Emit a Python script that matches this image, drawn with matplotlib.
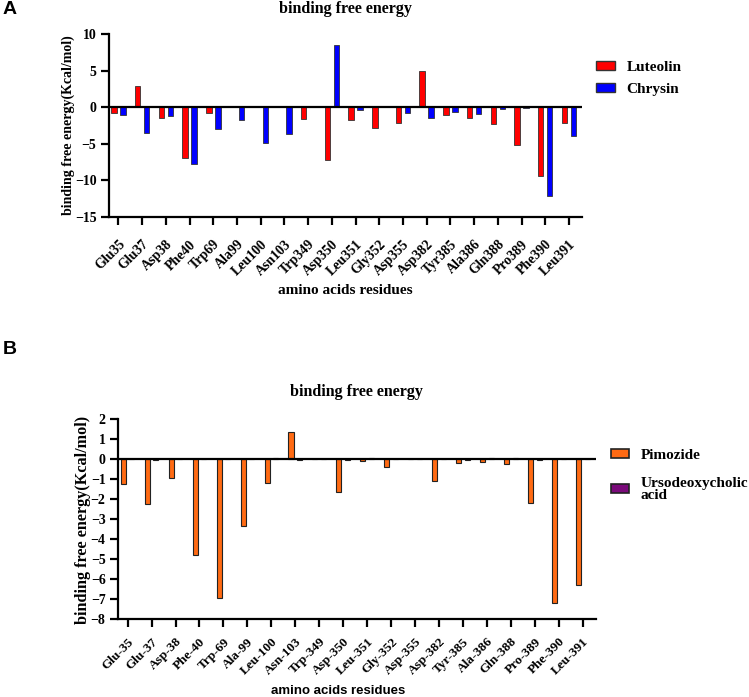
import numpy as np
from matplotlib import pyplot as plt
from matplotlib.patches import Patch

# panel A data
residues_a = ["Glu35", "Glu37", "Asp38", "Phe40", "Trp69", "Ala99", "Leu100", "Asn103", "Trp349", "Asp350",
              "Leu351", "Gly352", "Asp355", "Asp382", "Tyr385", "Ala386", "Gln388", "Pro389", "Phe390", "Leu391"]
luteolin = [-0.8, 2.85, -1.45, -7.0, -0.8, 0.0, 0.0, 0.22, -1.55, -7.25,
            -1.7, -2.85, -2.2, 4.9, -1.0, -1.45, -2.3, -5.1, -9.4, -2.2]
chrysin = [-1.0, -3.5, -1.25, -7.8, -3.0, -1.75, -4.9, -3.6, 0.0, 8.55,
           -0.4, 0.0, -0.75, -1.5, -0.6, -0.95, -0.25, -0.12, -12.1, -3.95]

# panel B data
residues_b = ["Glu-35", "Glu-37", "Asp-38", "Phe-40", "Trp-69", "Ala-99", "Leu-100", "Asn-103", "Trp-349", "Asp-350",
              "Leu-351", "Gly-352", "Asp-355", "Asp-382", "Tyr-385", "Ala-386", "Gln-388", "Pro-389", "Phe-390", "Leu-391"]
pimozide = [-1.26, -2.23, -0.97, -4.82, -6.93, -3.37, -1.22, 1.37, 0.0, -1.67,
            -0.1, -0.38, 0.0, -1.1, -0.2, -0.15, -0.23, -2.22, -7.2, -6.32]
ursodeoxycholic = [0.0, -0.05, -0.02, 0.0, 0.0, 0.0, 0.05, -0.05, 0.0, -0.03,
                   0.07, 0.0, 0.0, 0.0, -0.07, 0.06, 0.07, -0.07, 0.0, 0.0]

SERIF = "Liberation Serif"
SANS = "Liberation Sans"
W, H = 749, 697

fig = plt.figure(figsize=(7.49, 6.97), dpi=100)


def style_axes(ax, labels, ylim, yticks, xpad):
    for s in ["top", "right"]:
        ax.spines[s].set_visible(False)
    for s in ["left", "bottom"]:
        ax.spines[s].set_linewidth(1.6)
    ax.axhline(0, color="black", lw=1.6, zorder=3)
    ax.set_ylim(*ylim)
    ax.set_yticks(yticks)
    ax.set_xlim(-0.4, len(labels) - 0.45)
    ax.set_xticks(np.arange(len(labels)))
    ax.tick_params(axis="both", direction="out", length=6, width=1.6, pad=3)
    ax.tick_params(axis="x", pad=xpad)
    for t in ax.get_yticklabels():
        t.set_fontfamily(SERIF)
        t.set_fontweight("bold")
        t.set_fontsize(10)


# ---- panel A ----
axA = fig.add_axes([109 / W, 1 - 217 / H, 473 / W, 183 / H])
x = np.arange(len(residues_a))
axA.bar(x - 0.19, luteolin, width=0.23, color="#ff0000", edgecolor="#333333", lw=0.6, zorder=2)
axA.bar(x + 0.19, chrysin, width=0.23, color="#0000ff", edgecolor="#333333", lw=0.6, zorder=2)
style_axes(axA, residues_a, (-15, 10), [-15, -10, -5, 0, 5, 10], xpad=9)
axA.set_xticklabels(residues_a, rotation=45, ha="right", va="top", rotation_mode="anchor",
                    fontfamily=SERIF, fontweight="bold", fontsize=10)
legA = axA.legend(handles=[Patch(facecolor="#ff0000", edgecolor="#333333", label="Luteolin"),
                           Patch(facecolor="#0000ff", edgecolor="#333333", label="Chrysin")],
                  loc="upper left", bbox_to_anchor=(596 / W, 1 - 61 / H), bbox_transform=fig.transFigure,
                  frameon=False, borderpad=0, borderaxespad=0, handlelength=1.25, handleheight=0.5,
                  handletextpad=0.75, labelspacing=0.58,
                  prop={"family": SERIF, "weight": "bold", "size": 11})

fig.text(0.003, 1 - 10 / H, "A", family=SANS, weight="bold", fontsize=14, va="center", ha="left")
fig.text(345 / W, 1 - 9 / H, "binding free energy", family=SERIF, weight="bold", fontsize=11.5,
         ha="center", va="center")
fig.text(68 / W, 1 - 125 / H, "binding free energy(Kcal/mol)", family=SERIF, weight="bold", fontsize=10,
         rotation=90, ha="center", va="center")
fig.text(345 / W, 1 - 291 / H, "amino acids residues", family=SERIF, weight="bold", fontsize=11,
         ha="center", va="center")

# ---- panel B ----
axB = fig.add_axes([118 / W, 1 - 619 / H, 478 / W, 200 / H])
x = np.arange(len(residues_b))
axB.bar(x - 0.18, pimozide, width=0.21, color="#ff6a13", edgecolor="#222222", lw=0.8, zorder=2)
axB.bar(x + 0.18, ursodeoxycholic, width=0.21, color="#7a0a7a", edgecolor="#222222", lw=0.8, zorder=2)
style_axes(axB, residues_b, (-8, 2), np.arange(-8, 3, 1), xpad=6)
axB.set_xticklabels(residues_b, rotation=45, ha="right", va="top", rotation_mode="anchor",
                    fontfamily=SERIF, fontweight="bold", fontsize=9.5)
legB = axB.legend(handles=[Patch(facecolor="#ff6a13", edgecolor="#222222", lw=1.2, label="Pimozide"),
                           Patch(facecolor="#7a0a7a", edgecolor="#222222", lw=1.2, label="Ursodeoxycholic\nacid")],
                  loc="upper left", bbox_to_anchor=(611 / W, 1 - 449 / H), bbox_transform=fig.transFigure,
                  frameon=False, borderpad=0, borderaxespad=0, handlelength=1.2, handleheight=0.5,
                  handletextpad=0.75, labelspacing=0.95,
                  prop={"family": SERIF, "weight": "bold", "size": 11})
legB.get_texts()[1].set_linespacing(0.95)

fig.text(0.004, 1 - 349 / H, "B", family=SANS, weight="bold", fontsize=14, va="center", ha="left")
fig.text(356 / W, 1 - 392 / H, "binding free energy", family=SERIF, weight="bold", fontsize=11.5,
         ha="center", va="center")
fig.text(83 / W, 1 - 520 / H, "binding free energy(Kcal/mol)", family=SERIF, weight="bold", fontsize=11.7,
         rotation=90, ha="center", va="center")
fig.text(338 / W, 1 - 691 / H, "amino acids residues", family=SANS, weight="bold", fontsize=9.5,
         ha="center", va="center")

fig.savefig("out.png", dpi=100)
